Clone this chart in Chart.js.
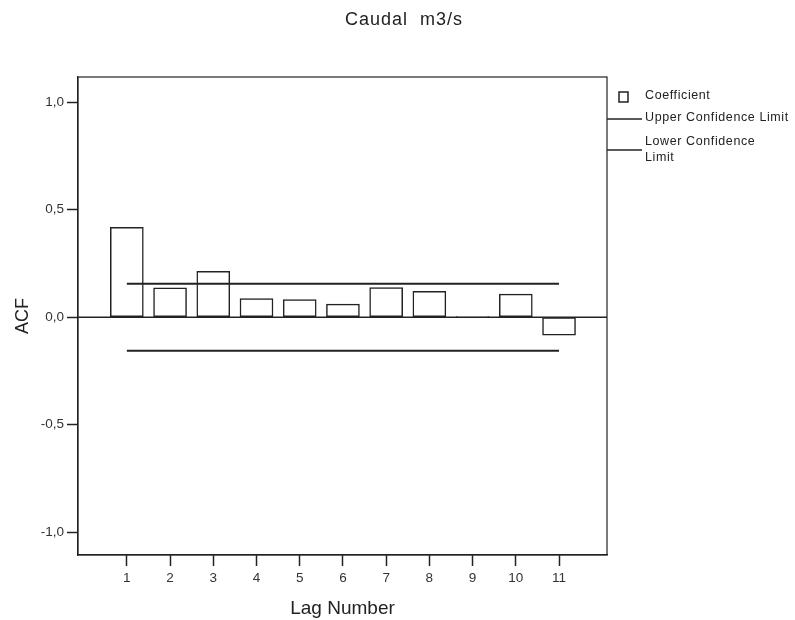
<!DOCTYPE html>
<html>
<head>
<meta charset="utf-8">
<script src="https://cdn.jsdelivr.net/npm/chart.js@4.4.0/dist/chart.umd.min.js"></script>
<style>
  html, body { margin: 0; padding: 0; background: #fff; }
  #wrap { width: 795px; height: 620px; position: relative; }
</style>
</head>
<body>
<div id="wrap"><canvas id="acf"></canvas></div>
<script>
// donnees
const lags = [1, 2, 3, 4, 5, 6, 7, 8, 9, 10, 11];
const acfValues = [0.418, 0.137, 0.213, 0.087, 0.082, 0.061, 0.138, 0.120, 0.002, 0.107, -0.084];
const upperLimit = [0.156, 0.156];
const lowerLimit = [-0.156, -0.156];
const limitLags = [1, 11];
const yTickValues = [1.0, 0.5, 0.0, -0.5, -1.0];
const yTickLabels = ['1,0', '0,5', '0,0', '-0,5', '-1,0'];
const xTickValues = lags;

const font = "'Liberation Sans', Arial, sans-serif";

// cadre, ligne du zero et legende dessines a la main
const framePlugin = {
  id: 'frame',
  afterDatasetsDraw(chart) {
    const ctx = chart.ctx;
    const a = chart.chartArea;
    const y0 = chart.scales.y.getPixelForValue(0);
    ctx.save();
    ctx.strokeStyle = '#222';
    ctx.lineWidth = 1.5;
    ctx.beginPath();
    ctx.moveTo(a.left, y0);
    ctx.lineTo(a.right, y0);
    ctx.stroke();
    ctx.restore();
  },
  afterDraw(chart) {
    const ctx = chart.ctx;
    const a = chart.chartArea;
    ctx.save();
    ctx.strokeStyle = '#222';
    ctx.lineWidth = 1.2;
    ctx.strokeRect(a.left, a.top, a.right - a.left, a.bottom - a.top);

    // legende
    ctx.fillStyle = '#222';
    ctx.font = '12.5px ' + font;
    ctx.letterSpacing = '0.6px';
    ctx.textBaseline = 'middle';
    ctx.lineWidth = 1.5;
    ctx.strokeRect(619, 92, 9, 10);
    ctx.fillText('Coefficient', 645, 96);
    ctx.beginPath();
    ctx.moveTo(a.right, 119);
    ctx.lineTo(642, 119);
    ctx.stroke();
    ctx.fillText('Upper Confidence Limit', 645, 118);
    ctx.beginPath();
    ctx.moveTo(a.right, 150);
    ctx.lineTo(642, 150);
    ctx.stroke();
    ctx.fillText('Lower Confidence', 645, 142);
    ctx.fillText('Limit', 645, 158);

    // titre principal
    ctx.font = '18px ' + font;
    ctx.letterSpacing = '1px';
    ctx.textAlign = 'center';
    ctx.fillText('Caudal  m3/s', 404, 20);
    ctx.restore();
  }
};

new Chart(document.getElementById('acf'), {
  type: 'bar',
  data: {
    datasets: [
      {
        type: 'line',
        label: 'Upper Confidence Limit',
        data: limitLags.map((x, i) => ({ x: x, y: upperLimit[i] })),
        borderColor: '#222',
        borderWidth: 2,
        pointRadius: 0,
        fill: false
      },
      {
        type: 'line',
        label: 'Lower Confidence Limit',
        data: limitLags.map((x, i) => ({ x: x, y: lowerLimit[i] })),
        borderColor: '#222',
        borderWidth: 2,
        pointRadius: 0,
        fill: false
      },
      {
        label: 'Coefficient',
        data: lags.map((x, i) => ({ x: x, y: acfValues[i] })),
        backgroundColor: '#fff',
        borderColor: '#222',
        borderWidth: 1.5,
        barThickness: 33,
        borderSkipped: false
      }
    ]
  },
  options: {
    responsive: true,
    maintainAspectRatio: false,
    animation: false,
    layout: { padding: { top: 77, right: 188, left: 0, bottom: 0 } },
    plugins: {
      legend: { display: false },
      tooltip: { enabled: false },
      title: { display: false }
    },
    scales: {
      x: {
        type: 'linear',
        offset: false,
        min: -0.13,
        max: 12.11,
        afterFit(scale) { scale.height = 65; },
        afterBuildTicks(scale) { scale.ticks = xTickValues.map(v => ({ value: v })); },
        grid: { offset: false, drawOnChartArea: false, tickLength: 11, tickColor: '#222', tickWidth: 1.5 },
        border: { color: '#222', width: 1.2 },
        ticks: {
          color: '#333',
          font: { family: font, size: 13.5 },
          padding: 4,
          maxRotation: 0,
          autoSkip: false,
          callback: v => String(v)
        },
        title: {
          display: true,
          text: 'Lag Number',
          color: '#222',
          font: { family: font, size: 19 },
          padding: { top: 2, bottom: 0 }
        }
      },
      y: {
        min: -1.107,
        max: 1.118,
        afterFit(scale) { scale.width = 78; },
        afterBuildTicks(scale) { scale.ticks = yTickValues.map(v => ({ value: v })); },
        grid: {
          color: 'rgba(0,0,0,0)',
          tickColor: '#222',
          tickLength: 11,
          tickWidth: 1.5
        },
        border: { color: '#222', width: 1.2 },
        ticks: {
          color: '#333',
          font: { family: font, size: 13.5 },
          padding: 3,
          autoSkip: false,
          callback: v => yTickLabels[yTickValues.indexOf(v)]
        },
        title: {
          display: true,
          text: 'ACF',
          color: '#222',
          font: { family: font, size: 18 },
          padding: { top: 12, bottom: 2 }
        }
      }
    }
  },
  plugins: [framePlugin]
});
</script>
</body>
</html>
